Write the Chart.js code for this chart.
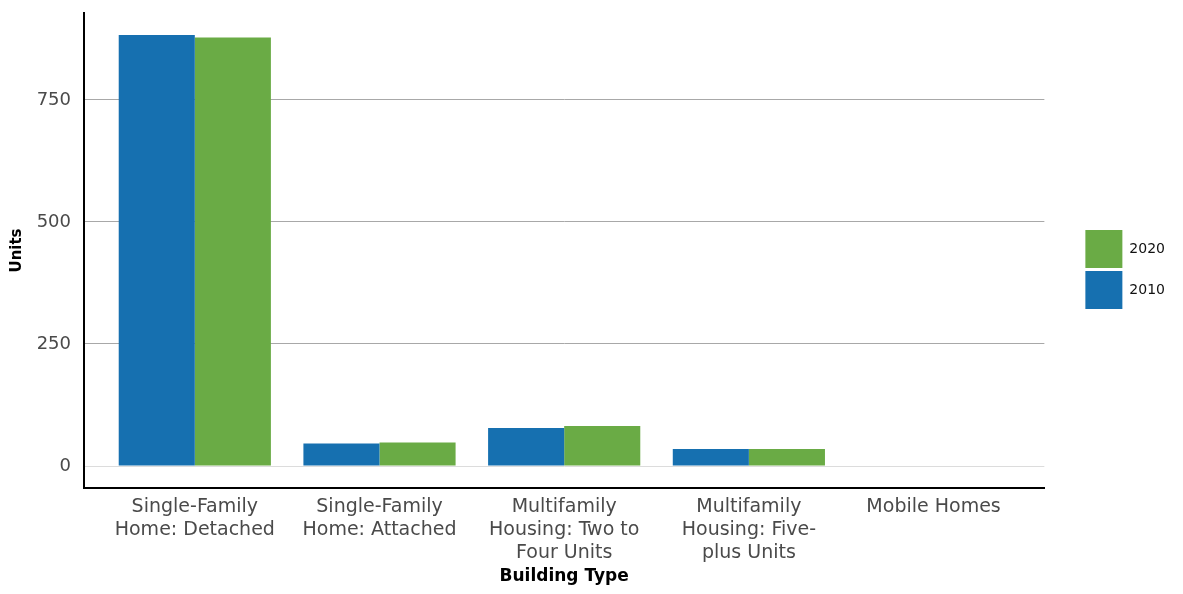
<!DOCTYPE html>
<html>
<head>
<meta charset="utf-8">
<script src="https://cdn.jsdelivr.net/npm/chart.js@4"></script>
<style>
  html, body { margin: 0; padding: 0; background: #fff; }
  canvas { display: block; }
</style>
</head>
<body>
<canvas id="unitsChart" width="1183" height="594"></canvas>
<script>
// building types (multi-line labels as shown under the axis)
const categories = [
    ["Single-Family", "Home: Detached"],
    ["Single-Family", "Home: Attached"],
    ["Multifamily", "Housing: Two to", "Four Units"],
    ["Multifamily", "Housing: Five-", "plus Units"],
    ["Mobile Homes"]
];
const units2010 = [883, 46, 78, 35, 0];
const units2020 = [878, 48, 82, 35, 0];
const yTicks = [0, 250, 500, 750];

Chart.defaults.font.family = "'DejaVu Sans', sans-serif";
Chart.defaults.animation = false;

// no label overhang padding, sizes are fixed by hand
function noPad(scale) {
    scale.paddingTop = 0;
    scale.paddingBottom = 0;
    scale.paddingLeft = 0;
    scale.paddingRight = 0;
}

const ctx = document.getElementById("unitsChart").getContext("2d");
new Chart(ctx, {
    type: "bar",
    data: {
        labels: categories,
        datasets: [
            { label: "2010", data: units2010, backgroundColor: "#1670b0", borderWidth: 0 },
            { label: "2020", data: units2020, backgroundColor: "#6aab45", borderWidth: 0 }
        ]
    },
    options: {
        responsive: false,
        layout: { padding: { top: 13, left: 0, right: 8, bottom: 0 } },
        datasets: { bar: { categoryPercentage: 0.824, barPercentage: 1 } },
        plugins: {
            tooltip: { enabled: false },
            legend: {
                position: "right",
                fullSize: false,
                reverse: true,
                title: { display: true, text: "", font: { size: 10 }, padding: 13 },
                labels: {
                    boxWidth: 37,
                    boxHeight: 38,
                    padding: 3,
                    color: "#111",
                    font: { size: 14 }
                }
            }
        },
        scales: {
            x: {
                grid: { display: false, drawTicks: false },
                border: { color: "#000", width: 2 },
                ticks: {
                    color: "#4a4a4a",
                    padding: 8,
                    maxRotation: 0,
                    autoSkip: false,
                    font: { size: 19, lineHeight: 1.2 }
                },
                title: {
                    display: true,
                    text: "Building Type",
                    color: "#000",
                    font: { size: 17, weight: "bold" },
                    padding: { top: 0, bottom: 7 }
                },
                // ggplot-style discrete expansion: 0.6 of a slot on each side
                afterBuildTicks(scale) {
                    scale._startValue = -0.6;
                    scale._valueRange = categories.length - 1 + 1.2;
                },
                afterFit(scale) { scale.height = 106; noPad(scale); }
            },
            y: {
                min: -45,
                max: 928,
                grid: {
                    drawTicks: false,
                    color: c => (c.tick && c.tick.value === 0) ? "#dcdcdc" : "#a8a8a8",
                    lineWidth: 1
                },
                border: { color: "#000", width: 2 },
                ticks: { color: "#4a4a4a", padding: 13, font: { size: 18 } },
                afterBuildTicks(scale) {
                    scale.ticks = yTicks.map(v => ({ value: v }));
                },
                title: {
                    display: true,
                    text: "Units",
                    color: "#000",
                    font: { size: 15, weight: "bold" },
                    padding: { top: 8, bottom: 0 }
                },
                afterFit(scale) { scale.width = 84; noPad(scale); }
            },
            // empty spacer between plot panel and legend
            gap: {
                type: "linear",
                position: "right",
                grid: { display: false, drawTicks: false },
                border: { display: false },
                ticks: { display: false },
                afterFit(scale) { scale.width = 38; noPad(scale); }
            }
        }
    }
});
</script>
</body>
</html>
